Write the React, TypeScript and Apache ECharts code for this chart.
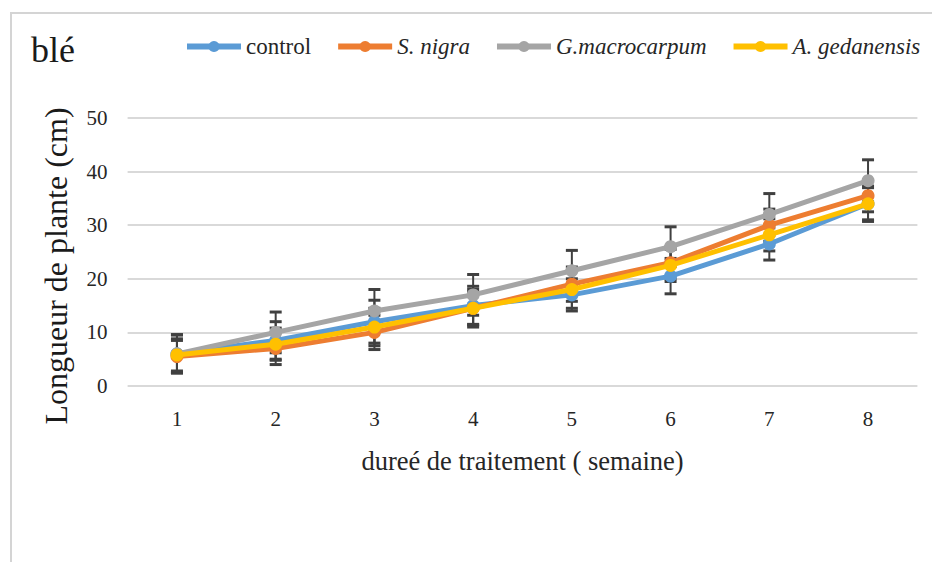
import React, { useEffect, useRef } from "react";
import * as echarts from "echarts";

const weeks = ["1", "2", "3", "4", "5", "6", "7", "8"];
const seriesNames = ["control", "S. nigra", "G.macrocarpum", "A. gedanensis"];
const colors = ["#5B9BD5", "#ED7D31", "#A5A5A5", "#FFC000"];
const controlValues = [6, 8.5, 12, 15, 17, 20.5, 26.5, 34];
const nigraValues = [5.5, 7, 10, 14.5, 19, 23, 30, 35.5];
const macroValues = [6, 10, 14, 17, 21.5, 26, 32, 38.3];
const gedanValues = [5.8, 7.8, 11, 14.5, 18, 22.5, 28.2, 34];
const controlErr = [3.6, 3.5, 4, 3.6, 3, 3.3, 3, 3.3];
const nigraErr = [3, 3, 3.2, 3, 3.2, 3, 3, 3];
const macroErr = [3.5, 3.8, 4, 3.8, 3.8, 3.7, 3.9, 3.9];
const gedanErr = [3, 3, 3.5, 3.5, 3.5, 3, 3, 3];
const yTicks = [0, 10, 20, 30, 40, 50];

const allValues = [controlValues, nigraValues, macroValues, gedanValues];
const allErrs = [controlErr, nigraErr, macroErr, gedanErr];

const FONT = "Liberation Serif";

export default function App() {
  const ref = useRef<HTMLDivElement>(null);
  useEffect(() => {
    if (!ref.current) return;
    const chart = echarts.init(ref.current, null, { renderer: "svg" });

    const errData: number[][] = [];
    allValues.forEach((vals, s) => {
      vals.forEach((v, i) => {
        errData.push([i, v - allErrs[s][i], v + allErrs[s][i]]);
      });
    });

    const lineSeries = allValues.map((vals, s) => ({
      name: seriesNames[s],
      type: "line",
      data: vals,
      symbol: "circle",
      symbolSize: 13,
      z: 3 + s,
      lineStyle: { width: 5, color: colors[s] },
      itemStyle: { color: colors[s] },
    }));

    chart.setOption({
      animation: false,
      backgroundColor: "#ffffff",
      color: colors,
      textStyle: { fontFamily: FONT },
      title: {
        text: "blé",
        left: 26,
        top: 27,
        textStyle: { fontFamily: FONT, fontSize: 36, fontWeight: "normal", color: "#1a1a1a" },
      },
      legend: {
        data: seriesNames,
        left: 179,
        top: 30,
        itemWidth: 54,
        itemHeight: 14,
        itemGap: 24,
        lineStyle: { width: 6 },
        formatter: (name: string) =>
          name === "control" ? `{n|${name}}` : name === "S. nigra" ? `{w|${name}}` : `{i|${name}}`,
        textStyle: {
          fontFamily: FONT,
          fontSize: 23,
          color: "#262626",
          rich: {
            n: { fontFamily: FONT, fontSize: 23, color: "#262626", fontStyle: "normal" },
            w: { fontFamily: FONT, fontSize: 23, color: "#262626", fontStyle: "italic", width: 82 },
            i: { fontFamily: FONT, fontSize: 23, color: "#262626", fontStyle: "italic" },
          },
        },
      },
      grid: { left: 127.6, right: 14.6, top: 118, bottom: 176 },
      xAxis: {
        type: "category",
        data: weeks,
        boundaryGap: true,
        name: "dureé de traitement ( semaine)",
        nameLocation: "middle",
        nameGap: 61,
        nameTextStyle: { fontFamily: FONT, fontSize: 26.5, color: "#262626" },
        axisLine: { show: false },
        axisTick: { show: false },
        axisLabel: { fontFamily: FONT, fontSize: 21, color: "#262626", margin: 22 },
      },
      yAxis: {
        type: "value",
        min: yTicks[0],
        max: yTicks[yTicks.length - 1],
        interval: 10,
        axisLine: { show: false },
        axisTick: { show: false },
        axisLabel: { fontFamily: FONT, fontSize: 21, color: "#262626", margin: 20 },
        splitLine: { lineStyle: { color: "#d9d9d9", width: 2 } },
      },
      graphic: [
        {
          type: "line",
          shape: { x1: 10, y1: 13, x2: 932, y2: 13 },
          style: { stroke: "#d4d4d4", lineWidth: 2 },
        },
        {
          type: "line",
          shape: { x1: 11, y1: 13, x2: 11, y2: 562 },
          style: { stroke: "#d4d4d4", lineWidth: 2 },
        },
        {
          type: "text",
          x: 56,
          y: 266,
          rotation: Math.PI / 2,
          style: {
            text: "Longueur de plante (cm)",
            fontFamily: FONT,
            fontSize: 32,
            fill: "#1a1a1a",
            align: "center",
            verticalAlign: "middle",
          },
        },
      ],
      series: [
        {
          type: "custom",
          name: "errors",
          z: 2,
          data: errData,
          renderItem: (params: any, api: any) => {
            const x = api.value(0);
            const lo = api.coord([x, api.value(1)]);
            const hi = api.coord([x, api.value(2)]);
            const hw = 6;
            const st = { stroke: "#404040", lineWidth: 2 };
            return {
              type: "group",
              children: [
                { type: "line", shape: { x1: lo[0], y1: lo[1], x2: hi[0], y2: hi[1] }, style: st },
                { type: "line", shape: { x1: lo[0] - hw, y1: lo[1], x2: lo[0] + hw, y2: lo[1] }, style: { ...st, lineWidth: 3 } },
                { type: "line", shape: { x1: hi[0] - hw, y1: hi[1], x2: hi[0] + hw, y2: hi[1] }, style: { ...st, lineWidth: 3 } },
              ],
            };
          },
        },
        ...lineSeries,
      ],
    });
    return () => chart.dispose();
  }, []);
  return <div ref={ref} style={{ position: "fixed", left: 0, top: 0, width: 932, height: 562 }} />;
}
